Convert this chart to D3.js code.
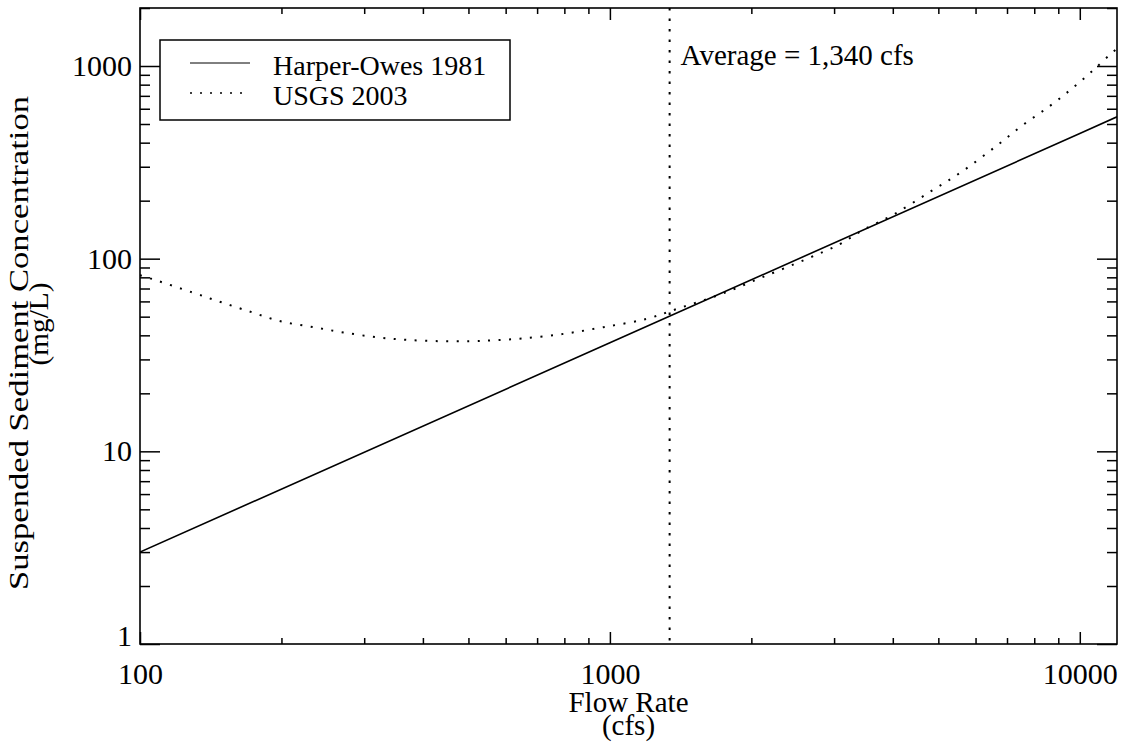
<!DOCTYPE html>
<html>
<head>
<meta charset="utf-8">
<script src="https://cdn.jsdelivr.net/npm/d3@7"></script>
<style>
  body { margin: 0; background: #fff; }
  text { font-family: "Liberation Serif", "Times New Roman", serif; fill: #000; }
</style>
</head>
<body>
<div id="chart"></div>
<script>
// values
const xDomain = [100, 12000];
const yDomain = [1, 2000];
const xMajor = [100, 1000, 10000];
const xTickLabels = ['100', '1000', '10000'];
const yMajor = [1, 10, 100, 1000];
const yTickLabels = ['1', '10', '100', '1000'];

const harperFlow = [100, 1000, 10000, 12000];
const harperConc = [3.0, 36.6, 446, 545];

const usgsFlow = [100, 106, 129, 149, 173, 200, 234, 271, 319, 369, 435, 504, 565, 654, 796, 968,
  1197, 1409, 1714, 2085, 2621, 3086, 3459, 4007, 4797, 5646, 6649, 7576, 8636, 9676, 10674, 11774, 12000];
const usgsConc = [82, 78.5, 66.9, 59.4, 52.7, 47.2, 44.1, 41.4, 39.1, 37.9, 37.3, 37.3, 37.7, 38.6, 40.7, 44.1,
  48.7, 55.5, 65.1, 79.1, 99.6, 119, 141, 169, 222, 286, 385, 495, 620, 772, 950, 1186, 1230];

const averageFlow = 1340;
const seriesNames = ['Harper-Owes 1981', 'USGS 2003'];

const W = 1121, H = 745;
const plot = {left: 140, right: 1117, top: 8, bottom: 644};
const tickFont = 30;

const svg = d3.select('#chart')
  .append('svg')
  .attr('width', W)
  .attr('height', H);

const x = d3.scaleLog().domain(xDomain).range([plot.left, plot.right]);
const y = d3.scaleLog().domain(yDomain).range([plot.bottom, plot.top]);

const xMinor = x.ticks().filter(d => !xMajor.includes(d));
const yMinor = y.ticks().filter(d => !yMajor.includes(d));

function styleAxis(g) {
  g.select('.domain').remove();
  g.attr('font-family', null).attr('font-size', null);
  g.selectAll('line').attr('stroke', '#000').attr('stroke-width', 1.5);
  g.selectAll('text').style('font-size', tickFont + 'px');
}

// bottom
svg.append('g')
  .attr('transform', `translate(0,${plot.bottom})`)
  .call(d3.axisBottom(x).tickValues(xMajor).tickSize(-12).tickPadding(19).tickFormat((d, i) => xTickLabels[i]))
  .call(styleAxis);
svg.append('g')
  .attr('transform', `translate(0,${plot.bottom})`)
  .call(d3.axisBottom(x).tickValues(xMinor).tickSize(-6).tickFormat(''))
  .call(styleAxis);
// top
svg.append('g')
  .attr('transform', `translate(0,${plot.top})`)
  .call(d3.axisTop(x).tickValues(xMajor).tickSize(-12).tickFormat(''))
  .call(styleAxis);
svg.append('g')
  .attr('transform', `translate(0,${plot.top})`)
  .call(d3.axisTop(x).tickValues(xMinor).tickSize(-6).tickFormat(''))
  .call(styleAxis);
// left
const yLeft = svg.append('g')
  .attr('transform', `translate(${plot.left},0)`)
  .call(d3.axisLeft(y).tickValues(yMajor).tickSize(-20).tickPadding(8).tickFormat((d, i) => yTickLabels[i]))
  .call(styleAxis);
yLeft.selectAll('.tick text').filter(d => d === yDomain[0]).attr('dy', '0.05em');
svg.append('g')
  .attr('transform', `translate(${plot.left},0)`)
  .call(d3.axisLeft(y).tickValues(yMinor).tickSize(-10).tickFormat(''))
  .call(styleAxis);
// right
svg.append('g')
  .attr('transform', `translate(${plot.right},0)`)
  .call(d3.axisRight(y).tickValues(yMajor).tickSize(-20).tickFormat(''))
  .call(styleAxis);
svg.append('g')
  .attr('transform', `translate(${plot.right},0)`)
  .call(d3.axisRight(y).tickValues(yMinor).tickSize(-10).tickFormat(''))
  .call(styleAxis);

// frame
svg.append('rect')
  .attr('x', plot.left).attr('y', plot.top)
  .attr('width', plot.right - plot.left).attr('height', plot.bottom - plot.top)
  .attr('fill', 'none').attr('stroke', '#000').attr('stroke-width', 1.6);

// curves
svg.append('clipPath').attr('id', 'clip')
  .append('rect')
  .attr('x', plot.left).attr('y', plot.top)
  .attr('width', plot.right - plot.left).attr('height', plot.bottom - plot.top);

const line = d3.line().x(d => x(d[0])).y(d => y(d[1]));

svg.append('path')
  .datum(d3.zip(harperFlow, harperConc))
  .attr('clip-path', 'url(#clip)')
  .attr('d', line)
  .attr('fill', 'none').attr('stroke', '#000').attr('stroke-width', 1.6);

svg.append('path')
  .datum(d3.zip(usgsFlow, usgsConc))
  .attr('clip-path', 'url(#clip)')
  .attr('d', line.curve(d3.curveCatmullRom))
  .attr('fill', 'none').attr('stroke', '#000').attr('stroke-width', 2)
  .attr('stroke-dasharray', '2,8.5');

// average flow line
svg.append('line')
  .attr('x1', x(averageFlow)).attr('x2', x(averageFlow))
  .attr('y1', plot.top).attr('y2', plot.bottom)
  .attr('stroke', '#000').attr('stroke-width', 2)
  .attr('stroke-dasharray', '2.5,8');

svg.append('text')
  .attr('x', x(averageFlow) + 11)
  .attr('y', 65)
  .style('font-size', '29px')
  .text('Average = ' + d3.format(',')(averageFlow) + ' cfs');

// legend
const legend = svg.append('g');
legend.append('rect')
  .attr('x', 160).attr('y', 40).attr('width', 350).attr('height', 80)
  .attr('fill', '#fff').attr('stroke', '#000').attr('stroke-width', 1.5);
seriesNames.forEach((name, i) => {
  const ly = 63 + i * 30;
  legend.append('line')
    .attr('x1', 190).attr('x2', 250).attr('y1', ly).attr('y2', ly)
    .attr('stroke', '#000').attr('stroke-width', i === 0 ? 1 : 1.5)
    .attr('stroke-dasharray', i === 0 ? null : '2,8');
  legend.append('text')
    .attr('x', 273).attr('y', ly + 12)
    .style('font-size', '28px')
    .text(name);
});

// axis titles
svg.append('text')
  .attr('x', (plot.left + plot.right) / 2).attr('y', 712)
  .attr('text-anchor', 'middle')
  .style('font-size', '29px')
  .text('Flow Rate');
svg.append('text')
  .attr('x', (plot.left + plot.right) / 2).attr('y', 735)
  .attr('text-anchor', 'middle')
  .style('font-size', '29px')
  .text('(cfs)');

svg.append('text')
  .attr('transform', `translate(28,343)rotate(-90)`)
  .attr('text-anchor', 'middle')
  .attr('textLength', 494)
  .attr('lengthAdjust', 'spacingAndGlyphs')
  .style('font-size', '28px')
  .text('Suspended Sediment Concentration');
svg.append('text')
  .attr('transform', `translate(48,324)rotate(-90)`)
  .attr('text-anchor', 'middle')
  .attr('textLength', 83)
  .attr('lengthAdjust', 'spacingAndGlyphs')
  .style('font-size', '28px')
  .text('(mg/L)');
</script>
</body>
</html>
